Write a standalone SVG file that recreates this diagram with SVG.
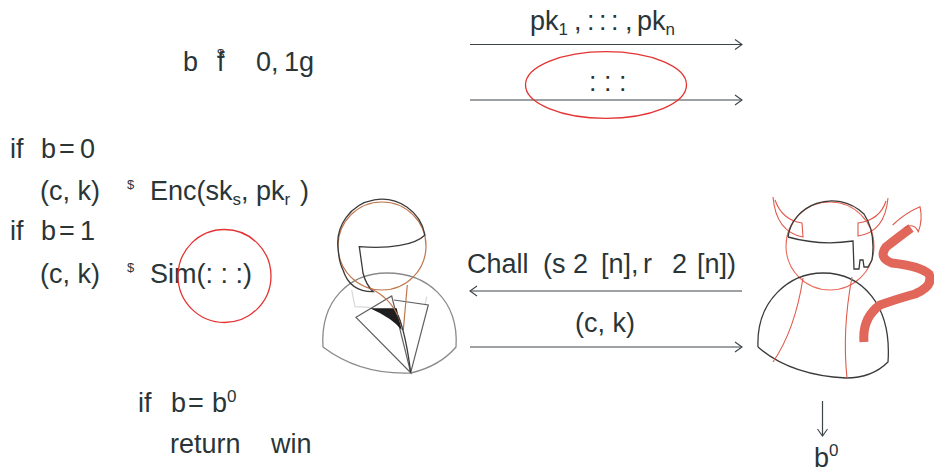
<svg xmlns="http://www.w3.org/2000/svg" width="934" height="472" viewBox="0 0 934 472">
  <defs>
    <marker id="head" markerWidth="12" markerHeight="12" refX="10" refY="6" orient="auto" markerUnits="userSpaceOnUse">
      <path d="M3,1 L10,6 L3,11" fill="none" stroke="#3c4448" stroke-width="1.1"/>
    </marker>
    <style>
      .t { font-family: "Liberation Sans", Arial, sans-serif; font-size: 27px; fill: #2a3538; }
      .s { font-size: 17px; }
      .d { font-size: 13px; }
      .msg { fill: none; stroke: #3c4448; stroke-width: 1.2; }
      .ring { fill: none; stroke: #e53333; stroke-width: 1.3; }
      .dk { fill: none; stroke: #3a3a3a; stroke-width: 1.3; }
      .gr { fill: none; stroke: #8a8a8a; stroke-width: 1.3; }
      .lp { fill: none; stroke: #606060; stroke-width: 1.2; }
      .br { fill: none; stroke: #c0764a; stroke-width: 1.2; }
      .rd { fill: none; stroke: #e05a4c; stroke-width: 1.1; }
    </style>
  </defs>

  <rect width="934" height="472" fill="#ffffff"/>

  <!-- challenger's program -->
  <g id="sample-bit">
    <text class="t" y="71"><tspan x="183">b</tspan><tspan x="217">f</tspan><tspan class="d" x="217" dy="-13">$</tspan><tspan x="256" dy="13">0,</tspan><tspan x="284">1g</tspan></text>
  </g>

  <g id="branch-real">
    <text class="t" y="158"><tspan x="10">if</tspan><tspan x="41">b</tspan><tspan x="59">=</tspan><tspan x="80">0</tspan></text>
    <text class="t" y="200"><tspan x="40">(c, k)</tspan><tspan class="d" x="127" dy="-11">$</tspan><tspan x="150" dy="11">Enc(sk</tspan><tspan class="s" dy="5">s</tspan><tspan dy="-5">, pk</tspan><tspan class="s" dy="5">r</tspan><tspan x="300" dy="-5">)</tspan></text>
  </g>

  <g id="branch-sim">
    <text class="t" y="240"><tspan x="10">if</tspan><tspan x="41">b</tspan><tspan x="59">=</tspan><tspan x="80">1</tspan></text>
    <text class="t" y="283"><tspan x="40">(c, k)</tspan><tspan class="d" x="127" dy="-11">$</tspan><tspan x="150" dy="11">Sim(: : :)</tspan></text>
    <circle class="ring" cx="224.5" cy="276" r="46.5"/>
  </g>

  <g id="check">
    <text class="t" y="412"><tspan x="138">if</tspan><tspan x="171">b</tspan><tspan x="188">=</tspan><tspan x="212">b</tspan><tspan class="s" dy="-10">0</tspan></text>
    <text class="t" y="453"><tspan x="170">return</tspan><tspan x="271">win</tspan></text>
  </g>

  <!-- challenger figure -->
  <g id="challenger">
    <path class="gr" d="M323,347 C320,300 350,273 387,273 C427,273 459,300 456,347 Q440,366 411,373 Q360,375 323,347 Z"/>
    <path d="M351.7,290 L355,306.7 L370,307.3 M426.7,296.7 L425,305" fill="none" stroke="#d8d8d8" stroke-width="1.2"/>
    <path class="lp" d="M356,317.3 L391.7,296 L410.7,372.7 Z"/>
    <path class="lp" d="M394,300 L428.3,305 L410.7,372.7"/>
    <path d="M370,308.3 L396.7,308.3 L401.7,330 Q392,318 370,308.3 Z" fill="#1e1e1e"/>
    <circle class="br" cx="382" cy="246" r="44"/>
    <path class="dk" d="M338.3,250 A44,44 0 0 1 425,235 C415,245 390,249 359.3,246.7 L363,273 Q366,285 373.3,291.7 Q350,292 343,270 Q339,262 338.3,250"/>
    <path class="br" d="M370,288.3 Q395,300 401.7,326.7 M407.3,285 Q405,310 403.3,330"/>
    <path class="dk" d="M398,315 Q406,335 410.7,372.7"/>
  </g>

  <!-- adversary figure -->
  <g id="adversary">
    <path class="rd" d="M773,197 Q776,232 803,237 L802,223 Q782,220 775,200"/>
    <path class="rd" d="M888,198 Q885,232 858,236 L858,223 Q880,220 886,201"/>
    <circle cx="830" cy="246" r="44" fill="none" stroke="#e86a5a" stroke-width="1.1"/>
    <path class="dk" d="M788,237 C792,205 835,187 864,214 Q876,232 872,260"/>
    <path class="dk" d="M788,237 Q820,246 853,241 L854,269 L859,269 L860,260 L863,260 L864,267 L868,267 L872,260"/>
    <path class="dk" d="M758,347 C756,300 790,273 823,273 C862,273 892,305 888,362 Q872,378 846,378 Q790,375 758,347"/>
    <path class="rd" d="M803,278 Q795,330 773,362"/>
    <path class="rd" d="M852,277 Q842,330 847,378"/>
    <path d="M864,342 Q862,318 880,305 Q900,298 915,294 Q934,286 929,274 Q920,266 892,263 Q878,258 886,247 Q900,236 911,228" fill="none" stroke="#e0675a" stroke-width="9" stroke-linecap="butt"/>
    <path class="rd" d="M892.7,225 Q905,213 920,206.7 Q923,220 918.3,231.7 Q914,222 904,228"/>
  </g>

  <g id="output">
    <text class="t" y="467"><tspan x="814">b</tspan><tspan class="s" dy="-11">0</tspan></text>
  </g>

  <!-- messages between the two parties -->
  <g id="connectors">
    <line class="msg" x1="470" y1="44.5" x2="742" y2="44.5" marker-end="url(#head)"/>
    <text class="t" y="30"><tspan x="530">pk</tspan><tspan class="s" dy="5">1</tspan><tspan x="574" dy="-5">,</tspan><tspan x="587">:</tspan><tspan x="599">:</tspan><tspan x="611">:</tspan><tspan x="625">,</tspan><tspan x="637">pk</tspan><tspan class="s" dy="5">n</tspan></text>
    <line class="msg" x1="470" y1="100" x2="742" y2="100" marker-end="url(#head)"/>
    <text class="t" x="589" y="91">: : :</text>
    <ellipse class="ring" cx="606" cy="85" rx="80.5" ry="33.3"/>
    <line class="msg" x1="742" y1="291" x2="470" y2="291" marker-end="url(#head)"/>
    <text class="t" y="273"><tspan x="467">Chall</tspan><tspan x="543">(s</tspan><tspan x="573">2</tspan><tspan x="601">[n],</tspan><tspan x="643">r</tspan><tspan x="672">2</tspan><tspan x="697">[n])</tspan></text>
    <line class="msg" x1="470" y1="347" x2="742" y2="347" marker-end="url(#head)"/>
    <text class="t" x="575" y="332">(c, k)</text>
    <line class="msg" x1="822.5" y1="401" x2="822.5" y2="436" marker-end="url(#head)"/>
  </g>
</svg>
